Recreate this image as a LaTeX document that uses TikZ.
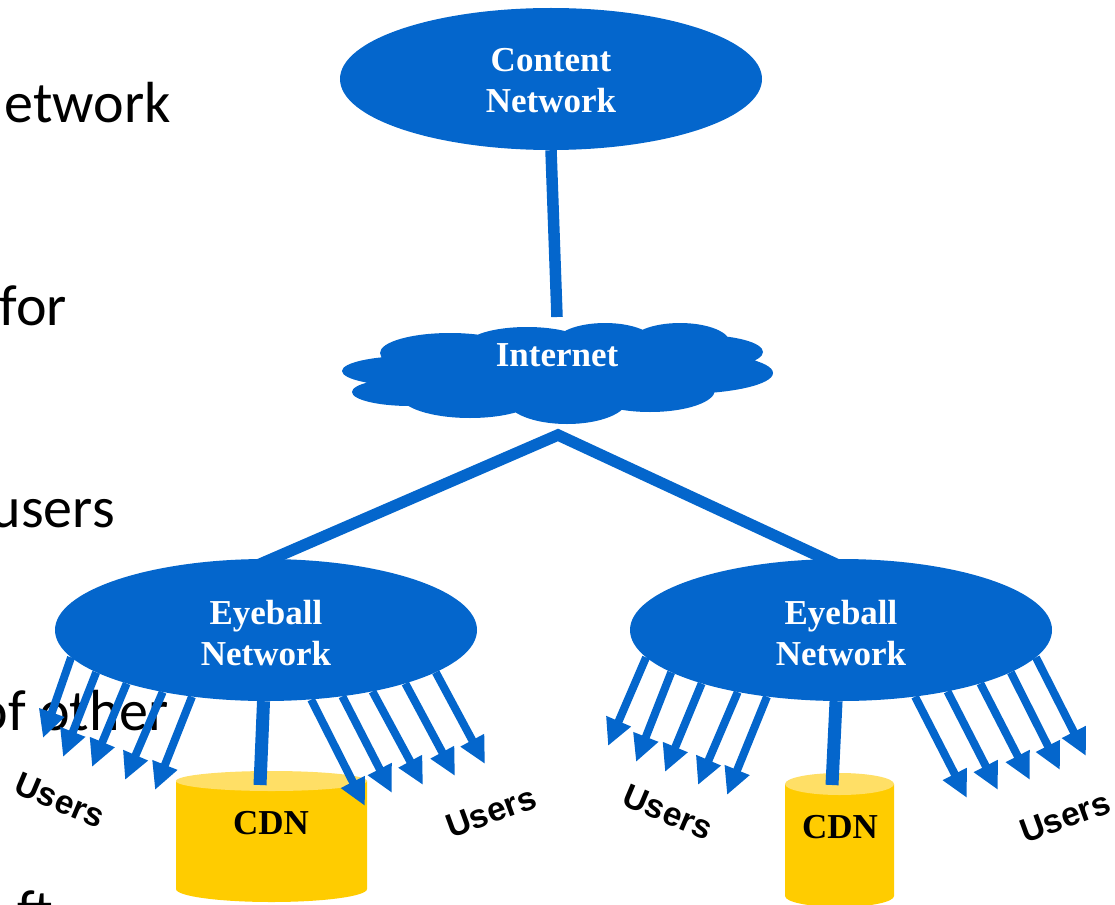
\documentclass[tikz,border=0pt]{standalone}
\usepackage{fontspec}
\setmainfont{Liberation Serif}
\newfontfamily\usersfont{Liberation Sans}
\newfontfamily\slidefont{Carlito}
\usetikzlibrary{arrows.meta,shapes.geometric}
\definecolor{netblue}{HTML}{0466CC}
\definecolor{cdngold}{HTML}{FFCC00}
\definecolor{cdncap}{HTML}{FFDF66}
\tikzset{
  net/.style={draw=none, fill=netblue, ellipse, inner sep=0pt, minimum width=422pt, minimum height=142pt},
  netlabel/.style={text=white, align=center, font=\bfseries\fontsize{35}{41}\selectfont},
  link/.style={draw=netblue, line width=11.5pt},
  cdnlink/.style={draw=netblue, line width=13pt},
  userarrow/.style={draw=netblue, line width=8pt, -{Triangle[length=27pt,width=25pt]}},
  cdnlabel/.style={font=\bfseries\fontsize{35}{41}\selectfont},
  users/.style={font=\usersfont\bfseries\fontsize{33.5}{38}\selectfont},
  slidetext/.style={font=\slidefont\fontsize{58}{60}\selectfont, inner sep=0pt}
}
\begin{document}
\begin{tikzpicture}[x=1pt,y=-1pt]
  \useasboundingbox (0,0) rectangle (1115,904);
  % slide text behind the figure
  \node[slidetext, anchor=base east] (linea) at (171,123) {etwork};
  \node[slidetext, anchor=base east] (lineb) at (67,325) {for};
  \node[slidetext, anchor=base east] (linec) at (115,527) {users};
  \node[slidetext, anchor=base east] (lined) at (169,730) {of other};
  \node[slidetext, anchor=base west] (linee) at (17,930) {ft};

  % networks
  \node[net] (content) at (551,79) {};
  \node[net] (eyeleft) at (266,630) {};
  \node[net] (eyeright) at (841,630) {};
  \node[netlabel] (contentlabel) at (551,81) {Content\\Network};
  \node[netlabel] (eyeleftlabel) at (266,633) {Eyeball\\Network};
  \node[netlabel] (eyerightlabel) at (841,633) {Eyeball\\Network};

  % internet cloud
  \fill[netblue] (450,353) ellipse (70 and 20) (527,345) ellipse (60 and 18)
    (605,343) ellipse (50 and 20) (680,343) ellipse (50 and 20)
    (700,352) ellipse (63 and 17)
    (680,373) ellipse (93 and 21) (650,390) ellipse (65 and 22)
    (567,400) ellipse (60 and 24) (470,395) ellipse (70 and 23)
    (410,392) ellipse (58 and 14) (410,371) ellipse (68 and 15)
    (557,372) ellipse (130 and 36);
  \node[netlabel] (internet) at (557,355) {Internet};
  \coordinate (cloudtop) at (557,317);
  \coordinate (cloudbottom) at (558,435);
  \coordinate (eyelefttop) at (258,565);
  \coordinate (eyerighttop) at (838,565);

  \draw[link] (content.south) -- (cloudtop);
  \draw[link, line join=miter] (eyelefttop) -- (cloudbottom) -- (eyerighttop);

  % caches
  \fill[cdngold] (176,781) -- (176,889) arc[start angle=180, end angle=360, x radius=95.5, y radius=-13] -- (367,781) -- cycle;
  \fill[cdncap] (271.5,781) ellipse (95.5 and 10);
  \fill[cdngold] (785,784) -- (785,896) arc[start angle=180, end angle=360, x radius=54.5, y radius=-11] -- (894,784) -- cycle;
  \fill[cdncap] (839.5,784) ellipse (54.5 and 11);
  \node[cdnlabel] (cdnlefttext) at (271,823) {CDN};
  \node[cdnlabel] (cdnrighttext) at (840,827) {CDN};
  \coordinate (cdnlefttop) at (260,785);
  \coordinate (cdnrighttop) at (832,785);
  \draw[cdnlink] (eyeleft.268) -- (cdnlefttop);
  \draw[cdnlink] (eyeright.266) -- (cdnrighttop);

  % user arrows
  \foreach \a/\tx/\ty in {188/43/738, 194/63/757, 201/92/767, 211/125/780, 222/155/790,
      303/365/806, 319/392/793, 330/423/785, 339/455/776, 346/485/764}
    \draw[userarrow] (eyeleft.\a) -- (\tx,\ty);
  \foreach \a/\tx/\ty in {188/608/746, 194/636/762, 201/665/772, 211/698/785, 222/727/795,
      318/967/798, 330/998/790, 339/1030/780, 346/1060/770, 352/1086/756}
    \draw[userarrow] (eyeright.\a) -- (\tx,\ty);

  \node[users, rotate=-23] (usersa) at (60,800) {Users};
  \node[users, rotate=20] (usersb) at (491,812) {Users};
  \node[users, rotate=-23] (usersc) at (668,812) {Users};
  \node[users, rotate=20] (usersd) at (1065,817) {Users};
\end{tikzpicture}
\end{document}
